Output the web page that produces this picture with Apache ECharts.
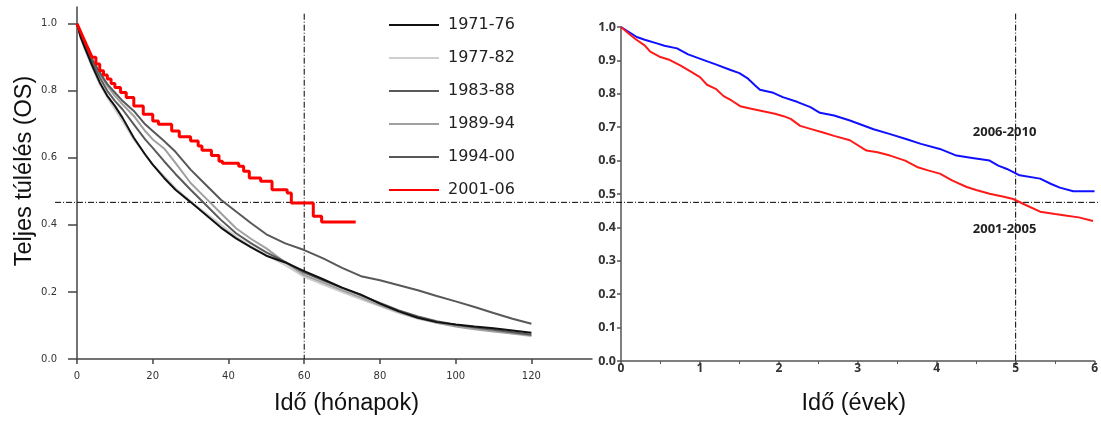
<!DOCTYPE html>
<html><head><meta charset="utf-8">
<script src="https://cdn.jsdelivr.net/npm/echarts@6/dist/echarts.min.js"></script>
<style>html,body{margin:0;padding:0;background:#fff}#c{width:1101px;height:421px}</style>
</head><body><div id="c"></div>
<script>
// ---------- Left chart data (months) ----------
const leftMonths = [0,1,2,4,6,8,10,12,15,18,20,23,26,30,34,38,42,46,50,55,60,65,70,75,80,85,90,95,100,105,110,115,120];
const os1971_76 = [1.0,0.96,0.93,0.875,0.825,0.785,0.755,0.72,0.66,0.61,0.58,0.54,0.505,0.468,0.43,0.392,0.36,0.333,0.308,0.288,0.262,0.238,0.213,0.192,0.165,0.142,0.123,0.11,0.103,0.097,0.092,0.085,0.078];
const os1977_82 = [1.0,0.955,0.925,0.87,0.82,0.78,0.745,0.71,0.655,0.61,0.58,0.545,0.51,0.47,0.435,0.40,0.365,0.335,0.31,0.28,0.245,0.222,0.2,0.178,0.158,0.137,0.12,0.108,0.098,0.09,0.083,0.076,0.068];
const os1983_88 = [1.0,0.96,0.935,0.885,0.84,0.8,0.77,0.745,0.7,0.655,0.63,0.59,0.552,0.505,0.46,0.415,0.375,0.345,0.318,0.29,0.258,0.235,0.212,0.19,0.167,0.145,0.127,0.113,0.102,0.094,0.087,0.08,0.072];
const os1989_94 = [1.0,0.962,0.938,0.89,0.85,0.815,0.785,0.76,0.725,0.68,0.655,0.628,0.585,0.525,0.48,0.435,0.39,0.358,0.33,0.288,0.25,0.228,0.205,0.183,0.16,0.14,0.122,0.108,0.097,0.089,0.082,0.076,0.07];
const os1994_00 = [1.0,0.965,0.94,0.895,0.855,0.82,0.795,0.77,0.74,0.70,0.68,0.65,0.618,0.565,0.52,0.475,0.44,0.405,0.372,0.345,0.325,0.3,0.272,0.247,0.235,0.22,0.205,0.188,0.172,0.155,0.137,0.12,0.105];
const redMonths = [0,0.5,1,1.5,2,2.5,3,3.5,4,5,6,7,8,9,10,11.5,13,15,17.5,20,21.5,25,27,30,32,33,35.5,37.5,38.4,42.7,44,45.5,48.5,51.5,55.5,56.6,62.4,64.6,73.6];
const os2001_06 = [1.0,0.988,0.975,0.962,0.95,0.937,0.925,0.912,0.9,0.88,0.86,0.847,0.835,0.822,0.81,0.795,0.78,0.755,0.73,0.71,0.7,0.68,0.663,0.65,0.635,0.623,0.607,0.59,0.584,0.575,0.56,0.54,0.53,0.505,0.495,0.465,0.426,0.409,0.409];
const leftLegend = ['1971-76','1977-82','1983-88','1989-94','1994-00','2001-06'];
const leftXTicks = [0,20,40,60,80,100,120];
const leftYTicks = [0,0.2,0.4,0.6,0.8,1.0];

// ---------- Right chart data (years) ----------
const blueYears = [0,0.1,0.2,0.3,0.455,0.55,0.71,0.85,1.05,1.2,1.38,1.5,1.6,1.7,1.76,1.93,2.05,2.23,2.4,2.52,2.7,2.9,3.2,3.4,3.62,3.8,4.04,4.25,4.45,4.67,4.78,4.89,5.05,5.31,5.45,5.56,5.73,6.0];
const os2006_2010 = [1.0,0.985,0.97,0.962,0.951,0.944,0.936,0.918,0.901,0.888,0.872,0.862,0.847,0.825,0.812,0.803,0.79,0.776,0.76,0.743,0.735,0.72,0.694,0.68,0.664,0.65,0.635,0.615,0.608,0.6,0.585,0.575,0.556,0.546,0.53,0.519,0.508,0.508];
const redYears = [0,0.1,0.2,0.3,0.37,0.5,0.62,0.75,0.88,1.0,1.09,1.2,1.3,1.4,1.51,1.65,1.8,1.95,2.06,2.15,2.27,2.4,2.56,2.7,2.9,3.11,3.25,3.41,3.6,3.75,3.9,4.04,4.2,4.38,4.5,4.67,4.85,4.97,5.1,5.31,5.5,5.65,5.8,5.98];
const os2001_2005 = [1.0,0.98,0.961,0.945,0.926,0.91,0.901,0.885,0.867,0.85,0.827,0.815,0.793,0.78,0.763,0.755,0.748,0.74,0.733,0.725,0.704,0.695,0.684,0.674,0.661,0.63,0.625,0.615,0.6,0.581,0.57,0.561,0.54,0.521,0.512,0.501,0.492,0.485,0.47,0.447,0.44,0.435,0.43,0.419];
const rightLabels = ['2006-2010','2001-2005'];

function zip(xs, ys){ return xs.map((x,i)=>[x, ys[i]]); }
function lineSeries(name, data, color, width, xi, extra){
  return Object.assign({
    type:'line', name, xAxisIndex:xi, yAxisIndex:xi, data,
    symbol:'none', showSymbol:false, smooth:false, animation:false,
    lineStyle:{color, width}, itemStyle:{color}, emphasis:{disabled:true}
  }, extra||{});
}

const chart = echarts.init(document.getElementById('c'));
const axisLineStyle = {color:'#444', width:1.5};
const rAxisLineStyle = {color:'#555', width:1.5};
const titleFont = {fontFamily:'Liberation Sans', fontSize:23.5, color:'#111'};

chart.setOption({
  animation:false,
  backgroundColor:'#fff',
  grid:[
    {left:77, top:7, width:515, height:355},
    {left:621, top:27, width:474, height:337}
  ],
  legend:{
    data:leftLegend, orient:'vertical', left:388, top:17, padding:0,
    itemWidth:50, itemHeight:14, itemGap:17, selectedMode:false,
    itemStyle:{opacity:0},
    textStyle:{fontFamily:'DejaVu Sans', fontSize:16, color:'#222', padding:[0,0,0,4]}
  },
  xAxis:[
    {gridIndex:0, type:'value', min:0, max:136, interval:20,
     axisLine:{lineStyle:axisLineStyle}, splitLine:{show:false},
     axisTick:{length:5, customValues:leftXTicks, lineStyle:axisLineStyle},
     axisLabel:{customValues:leftXTicks, fontFamily:'DejaVu Sans', fontSize:10, color:'#333', margin:12},
     name:'Idő (hónapok)', nameLocation:'middle', nameGap:33,
     nameTextStyle:Object.assign({padding:[0,0,0,24]}, titleFont)},
    {gridIndex:1, type:'value', min:0, max:6, interval:1,
     axisLine:{lineStyle:rAxisLineStyle}, splitLine:{show:false},
     axisTick:{length:4, lineStyle:rAxisLineStyle},
     minorTick:{show:true, splitNumber:2, length:3, lineStyle:{color:'#555'}},
     axisLabel:{fontFamily:'Open Sans', fontWeight:'bold', fontSize:12, color:'#333', margin:2},
     name:'Idő (évek)', nameLocation:'middle', nameGap:31,
     nameTextStyle:Object.assign({padding:[0,8,0,0]}, titleFont)}
  ],
  yAxis:[
    {gridIndex:0, type:'value', min:0, max:1.05, interval:0.2,
     axisLine:{show:true, lineStyle:axisLineStyle}, splitLine:{show:false},
     axisTick:{show:true, length:9, customValues:leftYTicks, lineStyle:axisLineStyle},
     axisLabel:{customValues:leftYTicks, formatter:v=>v.toFixed(1), fontFamily:'DejaVu Sans', fontSize:10, color:'#333', margin:20},
     name:'Teljes túlélés (OS)', nameLocation:'middle', nameGap:40,
     nameTextStyle:Object.assign({padding:[0,0,0,24]}, titleFont)},
    {gridIndex:1, type:'value', min:0, max:1, interval:0.1,
     axisLine:{show:true, lineStyle:rAxisLineStyle}, splitLine:{show:false},
     axisTick:{show:true, length:4, lineStyle:rAxisLineStyle},
     axisLabel:{formatter:v=>v.toFixed(1), fontFamily:'Open Sans', fontWeight:'bold', fontSize:12.5, color:'#333', margin:5}}
  ],
  series:[
    lineSeries(leftLegend[1], zip(leftMonths, os1977_82), '#cfcfcf', 2, 0),
    lineSeries(leftLegend[3], zip(leftMonths, os1989_94), '#a0a0a0', 2, 0),
    lineSeries(leftLegend[2], zip(leftMonths, os1983_88), '#5a5a5a', 2, 0),
    lineSeries(leftLegend[4], zip(leftMonths, os1994_00), '#585858', 2, 0),
    lineSeries(leftLegend[0], zip(leftMonths, os1971_76), '#111111', 2, 0),
    lineSeries(leftLegend[5], zip(redMonths, os2001_06), '#ff0000', 3, 0, {step:'end'}),
    lineSeries('2006-2010', zip(blueYears, os2006_2010), '#1010ff', 2, 1),
    lineSeries('2001-2005', zip(redYears, os2001_2005), '#ff1a1a', 2, 1)
  ]
});

// reference lines & annotations positioned through the axes' scales
const px = (xi, v) => chart.convertToPixel({xAxisIndex:xi}, v);
const py = (yi, v) => chart.convertToPixel({yAxisIndex:yi}, v);
const dash = {stroke:'#000', lineWidth:1, lineDash:[6,2,1,2]};
const hy = py(1, 0.475);
chart.setOption({
  graphic:[
    {type:'line', silent:true, z:1, shape:{x1:px(0,-5.8), y1:hy, x2:1100, y2:hy}, style:dash},
    {type:'line', silent:true, z:1, shape:{x1:px(0,60), y1:py(0,1.03), x2:px(0,60), y2:py(0,0)}, style:dash},
    {type:'line', silent:true, z:1, shape:{x1:px(1,5), y1:py(1,1.04), x2:px(1,5), y2:py(1,-0.018)}, style:dash},
    {type:'text', silent:true, z:5, x:px(1,4.86), y:py(1,0.685),
     style:{text:rightLabels[0], font:'bold 13px "Open Sans"', fill:'#222', align:'center', verticalAlign:'middle'}},
    {type:'text', silent:true, z:5, x:px(1,4.86), y:py(1,0.395),
     style:{text:rightLabels[1], font:'bold 13px "Open Sans"', fill:'#222', align:'center', verticalAlign:'middle'}}
  ]
});
</script></body></html>
